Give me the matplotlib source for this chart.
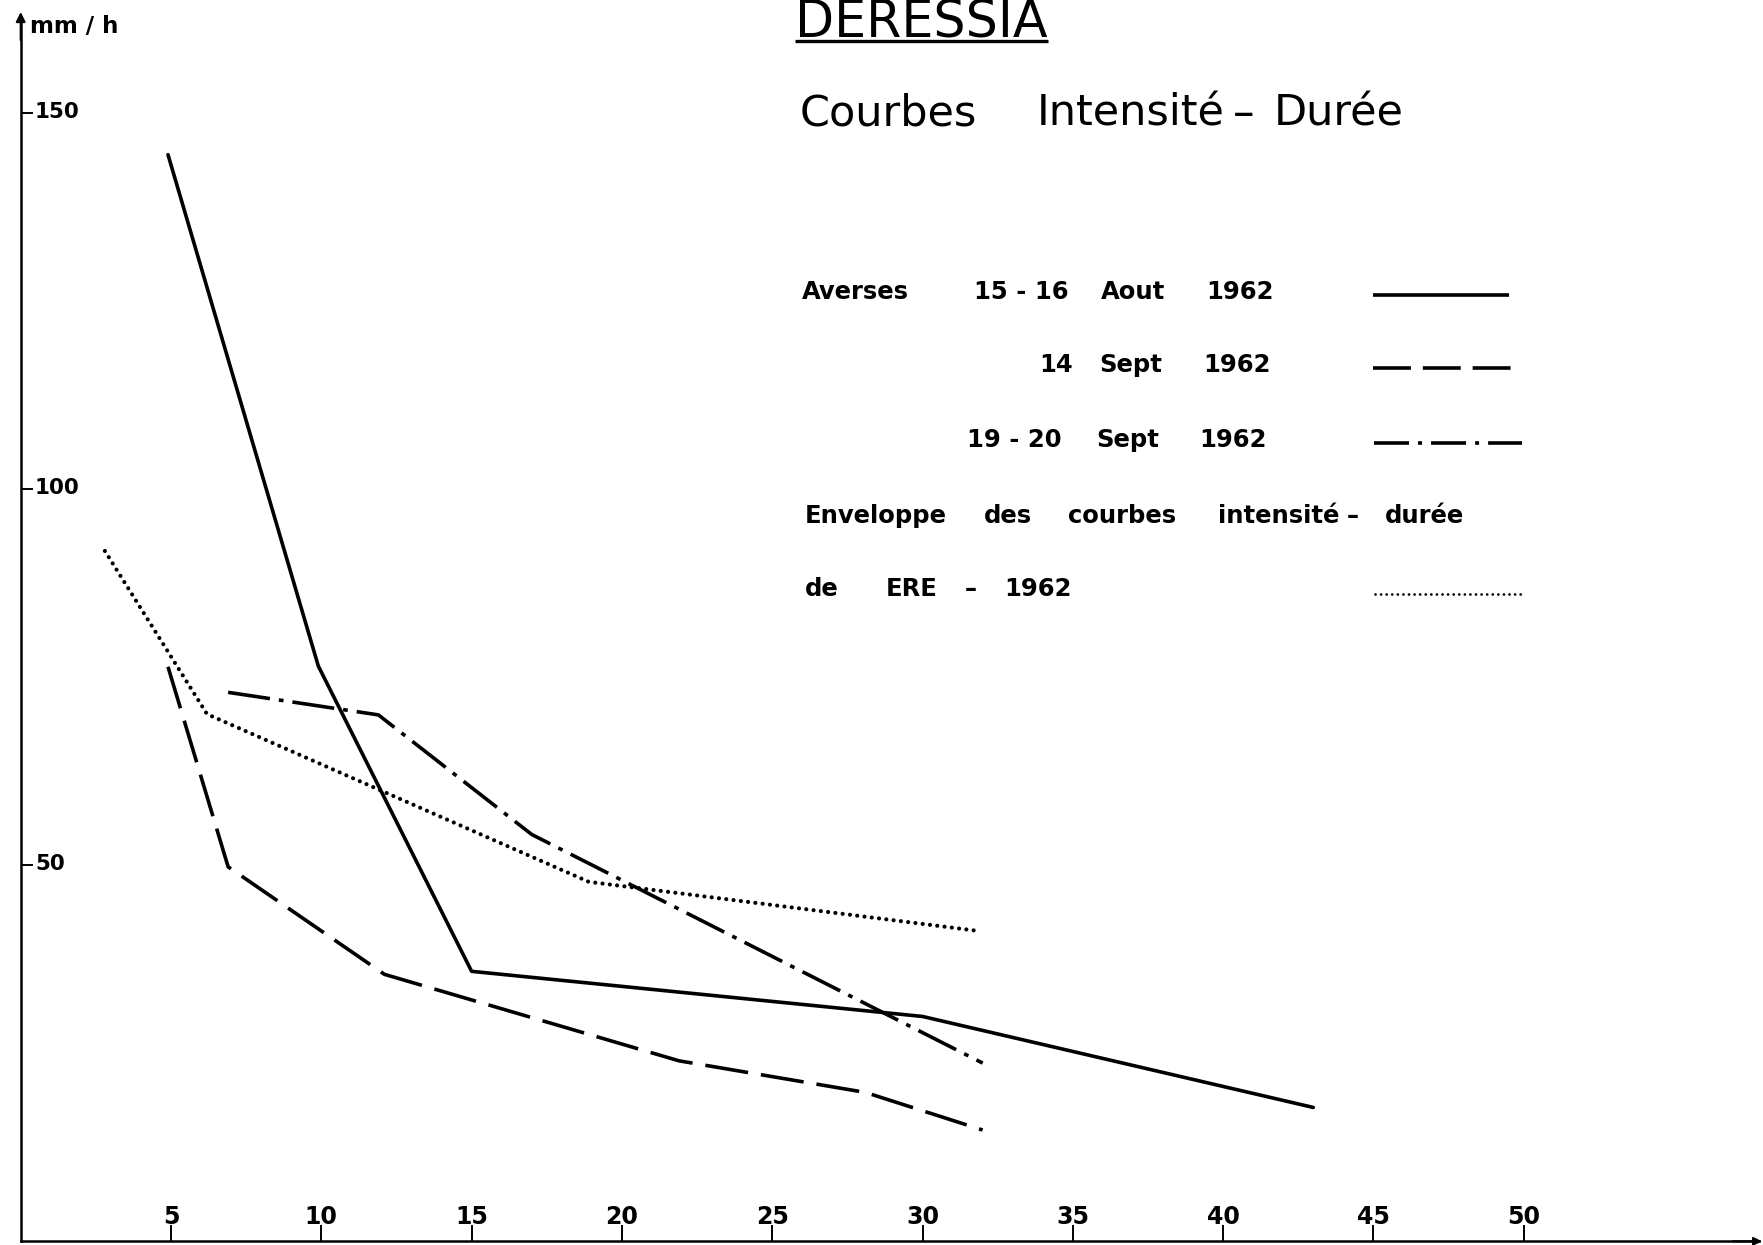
import matplotlib
matplotlib.use("Agg")
import matplotlib.pyplot as plt
from matplotlib import font_manager

# Intensity (mm/h) versus duration (min) for the recorded showers
aout_duree = [4.9, 9.9, 15.0, 30.0, 43.0]
aout_intensite = [144.5, 76.5, 35.9, 29.9, 17.8]

sept14_duree = [4.9, 6.9, 12.1, 21.9, 28.1, 32.0]
sept14_intensite = [76.4, 49.8, 35.5, 24.0, 19.8, 14.8]

sept19_duree = [6.9, 11.9, 17.0, 32.0]
sept19_intensite = [73.0, 70.0, 54.1, 23.7]

enveloppe_duree = [2.8, 6.2, 18.9, 31.8]
enveloppe_intensite = [91.8, 70.1, 47.8, 41.3]

x_ticks = [5, 10, 15, 20, 25, 30, 35, 40, 45, 50]
y_ticks = [50, 100, 150]
x_tick_labels = [str(v) for v in x_ticks]
y_tick_labels = [str(v) for v in y_ticks]

# ---------------------------------------------------------------- layout
W, H, DPI = 1763, 1245, 100
X0_PX, XS = 20.7, 30.06      # pixel of duration 0, pixels per minute
Y0_PX, YS = 1241.3, 7.52     # pixel of intensity 0, pixels per mm/h


def tx(px):
    return (px - X0_PX) / XS


def ty(py):
    return (Y0_PX - py) / YS


names = {f.name for f in font_manager.fontManager.ttflist}
NARROW = "Liberation Sans Narrow" if "Liberation Sans Narrow" in names else "DejaVu Sans"
narrow_ok = NARROW != "DejaVu Sans"

fig = plt.figure(figsize=(W / DPI, H / DPI), dpi=DPI, facecolor="white")
ax = fig.add_axes([0, 0, 1, 1])
ax.set_xlim(tx(0), tx(W))
ax.set_ylim(ty(H), ty(0))
ax.set_facecolor("white")

# axes drawn as arrows through the origin
for side in ("top", "right"):
    ax.spines[side].set_visible(False)
ax.spines["left"].set_position(("data", 0))
ax.spines["bottom"].set_position(("data", 0))
ax.spines["left"].set_bounds(0, ty(17))
ax.spines["bottom"].set_bounds(0, tx(W - 4))
for side in ("left", "bottom"):
    ax.spines[side].set_linewidth(1.8)
ax.annotate("", xy=(0, ty(12)), xytext=(0, ty(40)),
            arrowprops=dict(arrowstyle="-|>", color="black", lw=1.5,
                            mutation_scale=14, shrinkA=0, shrinkB=0))
ax.annotate("", xy=(tx(W - 1), 0), xytext=(tx(W - 30), 0),
            arrowprops=dict(arrowstyle="-|>", color="black", lw=1.5,
                            mutation_scale=12, shrinkA=0, shrinkB=0))

ax.set_xticks(x_ticks)
ax.set_yticks(y_ticks)
ax.tick_params(axis="x", direction="in", length=11.5, width=1.4,
               labelbottom=False)
ax.tick_params(axis="y", direction="in", length=8.5, width=1.4,
               labelleft=False)

tick_font = dict(family=NARROW, fontweight="bold", color="black")
xt_size = 20 if narrow_ok else 17
yt_size = 18 if narrow_ok else 15.5
for v, lab in zip(x_ticks, x_tick_labels):
    ax.text(v, 17 / YS, lab, ha="center", va="baseline", fontsize=xt_size,
            **tick_font)
for v, lab in zip(y_ticks, y_tick_labels):
    ax.text(tx(35), v - 5 / YS, lab, ha="left", va="baseline",
            fontsize=yt_size, **tick_font)

ax.text(tx(30), ty(33), "mm / h", ha="left", va="baseline", fontsize=16.5,
        fontweight="bold", family="DejaVu Sans")

# ---------------------------------------------------------------- curves
LW = 2.6
ax.plot(aout_duree, aout_intensite, color="black", lw=LW,
        solid_capstyle="round", solid_joinstyle="round")
ax.plot(sept14_duree, sept14_intensite, color="black", lw=LW,
        linestyle=(0, (12, 3.6)), dash_capstyle="butt",
        dash_joinstyle="round")
ax.plot(sept19_duree, sept19_intensite, color="black", lw=LW,
        linestyle=(0, (11.7, 2.5, 1.3, 2.5)), dash_capstyle="butt",
        dash_joinstyle="round")
ax.plot(enveloppe_duree, enveloppe_intensite, color="black", lw=3.0,
        linestyle=(0, (0.01, 1.75)), dash_capstyle="round")

# ---------------------------------------------------------------- titles
ax.text(tx(795), ty(37), "DERESSIA", ha="left", va="baseline",
        fontsize=36.5, family="DejaVu Sans")
ax.plot([tx(795), tx(1048)], [ty(41), ty(41)], color="black", lw=2.4,
        solid_capstyle="butt")

title_words = [("Courbes", 800), ("Intensité", 1037), ("–", 1233),
               ("Durée", 1274)]
for word, left in title_words:
    ax.text(tx(left), ty(126), word, ha="left", va="baseline",
            fontsize=31, family="DejaVu Sans")

# ---------------------------------------------------------------- key
legend_lines = [
    (299, [("Averses", 802), ("15 - 16", 974), ("Aout", 1101), ("1962", 1206)]),
    (372, [("14", 1039), ("Sept", 1099), ("1962", 1203)]),
    (447, [("19 - 20", 967), ("Sept", 1096), ("1962", 1199)]),
    (523, [("Enveloppe", 805), ("des", 984), ("courbes", 1068),
           ("intensité", 1218), ("–", 1347), ("durée", 1385)]),
    (596, [("de", 805), ("ERE", 886), ("–", 965), ("1962", 1004)]),
]
for base, words in legend_lines:
    for word, left in words:
        ax.text(tx(left), ty(base), word, ha="left", va="baseline",
                fontsize=17.5, fontweight="bold", family="DejaVu Sans")

ax.plot([tx(1373), tx(1509)], [ty(294.6)] * 2, color="black", lw=LW,
        solid_capstyle="butt")
ax.plot([tx(1373), tx(1513)], [ty(367.7)] * 2, color="black", lw=LW,
        linestyle=(0, (10.5, 3.3)), dash_capstyle="butt")
ax.plot([tx(1374), tx(1522)], [ty(443)] * 2, color="black", lw=LW,
        linestyle=(0, (9.7, 2.5, 1.1, 2.5)), dash_capstyle="butt")
ax.plot([tx(1375), tx(1521)], [ty(593.7)] * 2, color="black", lw=2.0,
        linestyle=(0, (0.01, 2.0)), dash_capstyle="round")

fig.savefig("out.png", dpi=DPI, facecolor="white")
